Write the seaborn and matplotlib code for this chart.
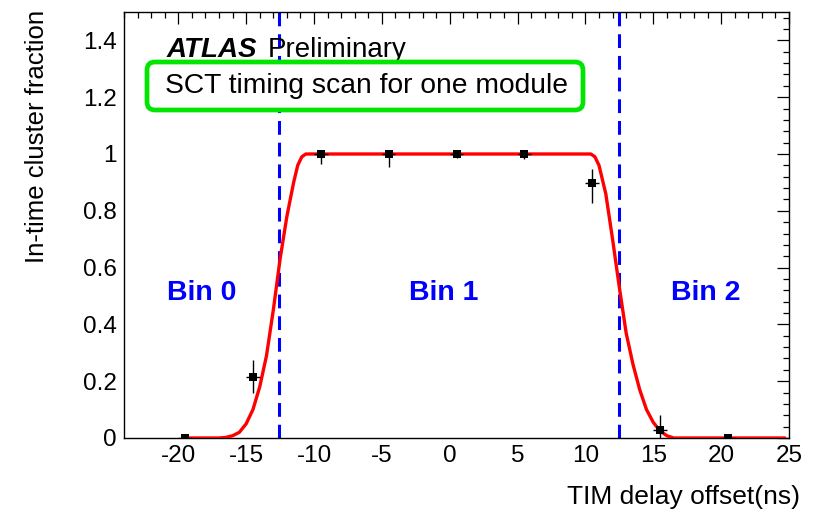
import matplotlib
matplotlib.use("Agg")
import matplotlib.pyplot as plt
import seaborn as sns
import pandas as pd
from matplotlib.patches import FancyBboxPatch
from matplotlib.ticker import MultipleLocator, FixedLocator, FixedFormatter

# ---- data ----
delay = [-19.5, -14.5, -9.5, -4.5, 0.5, 5.5, 10.5, 15.5, 20.5]
frac = [0.0, 0.215, 1.0, 1.0, 1.0, 1.0, 0.897, 0.028, 0.0]
err_lo = [0.0, 0.055, 0.035, 0.045, 0.015, 0.018, 0.07, 0.028, 0.0]
err_hi = [0.0, 0.06, 0.0, 0.0, 0.0, 0.0, 0.05, 0.052, 0.0]
x_err = [0.5] * 9

fit_x = [-19.5, -17.0, -16.5, -16.0, -15.5, -15.0, -14.5, -14.0, -13.5, -13.0,
         -12.5, -12.0, -11.5, -11.2, -10.9, -10.6,
         10.4, 10.7, 11.0, 11.5, 12.0, 12.5, 13.0, 13.5, 14.0, 14.5, 15.0,
         15.5, 16.0, 16.5, 24.7]
fit_y = [0.0, 0.0, 0.002, 0.008, 0.02, 0.05, 0.10, 0.18, 0.29, 0.45,
         0.63, 0.78, 0.90, 0.96, 0.99, 1.0,
         1.0, 0.99, 0.96, 0.86, 0.70, 0.53, 0.37, 0.26, 0.17, 0.10, 0.055,
         0.025, 0.008, 0.0, 0.0]

bin_edges = [-12.6, 12.5]
bin_labels = ["Bin 0", "Bin 1", "Bin 2"]
bin_label_x = [-18.3, -0.45, 18.9]
bin_label_y = 0.51

x_ticks = [-20, -15, -10, -5, 0, 5, 10, 15, 20, 25]
y_ticks = [0, 0.2, 0.4, 0.6, 0.8, 1.0, 1.2, 1.4]
y_tick_labels = ["0", "0.2", "0.4", "0.6", "0.8", "1", "1.2", "1.4"]

# ---- style ----
sns.set_style("white")
plt.rcParams["font.family"] = ["Liberation Sans", "DejaVu Sans"]
plt.rcParams["axes.unicode_minus"] = False
plt.rcParams["text.color"] = "black"

fig = plt.figure(figsize=(8.17, 5.09), dpi=100)
ax = fig.add_axes([124 / 817, 1 - 438 / 509, (789 - 124) / 817, (438 - 12) / 509])

fit_df = pd.DataFrame({"x": fit_x, "y": fit_y})
pts_df = pd.DataFrame({"x": delay, "y": frac})

sns.lineplot(data=fit_df, x="x", y="y", ax=ax, color="#ff0000", lw=2.4,
             sort=False, zorder=3)

for xe in bin_edges:
    ax.axvline(xe, color="#0000ff", lw=2.2, ls=(0, (4.5, 2.6)), zorder=2)

ax.errorbar(delay, frac, yerr=[err_lo, err_hi], xerr=x_err, fmt="none",
            ecolor="black", elinewidth=1.0, capsize=0, zorder=4)
sns.scatterplot(data=pts_df, x="x", y="y", ax=ax, marker="s", s=28,
                color="black", edgecolor="black", linewidth=0, zorder=5)

for lab, bx in zip(bin_labels, bin_label_x):
    ax.text(bx, bin_label_y, lab, color="#0000ff", fontsize=20.5,
            fontweight="bold", ha="center", va="center")

ax.set_xlim(-24, 25)
ax.set_ylim(0, 1.5)
ax.set_xlabel("")
ax.set_ylabel("")

ax.xaxis.set_major_locator(FixedLocator(x_ticks))
ax.xaxis.set_minor_locator(MultipleLocator(1))
ax.yaxis.set_major_locator(FixedLocator(y_ticks))
ax.yaxis.set_major_formatter(FixedFormatter(y_tick_labels))
ax.yaxis.set_minor_locator(MultipleLocator(0.04))

ax.tick_params(which="both", direction="in", top=True, right=True,
               labelsize=17.5, colors="black", width=0.9)
ax.tick_params(which="major", length=8.6, pad=5)
ax.tick_params(which="minor", length=4.3)
for sp in ax.spines.values():
    sp.set_color("black")
    sp.set_linewidth(1.0)

# axis titles (ROOT-style placement)
inch = fig.dpi_scale_trans
fig.text(0.37, (509 - 10) / 100, "In-time cluster fraction", rotation=90,
         ha="center", va="top", fontsize=18.5, color="black", transform=inch)
fig.text(8.0, (509 - 497) / 100, "TIM delay offset(ns)", ha="right",
         va="center", fontsize=19, color="black", transform=inch)

# ATLAS label
fig.text(1.67, (509 - 57) / 100, "ATLAS", fontsize=20, fontweight="bold",
         fontstyle="italic", ha="left", va="baseline", color="black",
         transform=inch)
fig.text(2.68, (509 - 57) / 100, "Preliminary", fontsize=20, color="black",
         ha="left", va="baseline", transform=inch)

# green box + text
box = FancyBboxPatch((1.47, (509 - 110) / 100), 4.36, 0.48,
                     boxstyle="round,pad=0,rounding_size=0.08",
                     transform=inch, facecolor="white", edgecolor="#00e600",
                     linewidth=3.4, zorder=10)
fig.patches.append(box)
fig.text(1.65, (509 - 93) / 100, "SCT timing scan for one module",
         fontsize=20.3, ha="left", va="baseline", color="black",
         transform=inch, zorder=11)

fig.savefig("out.png", dpi=100)
